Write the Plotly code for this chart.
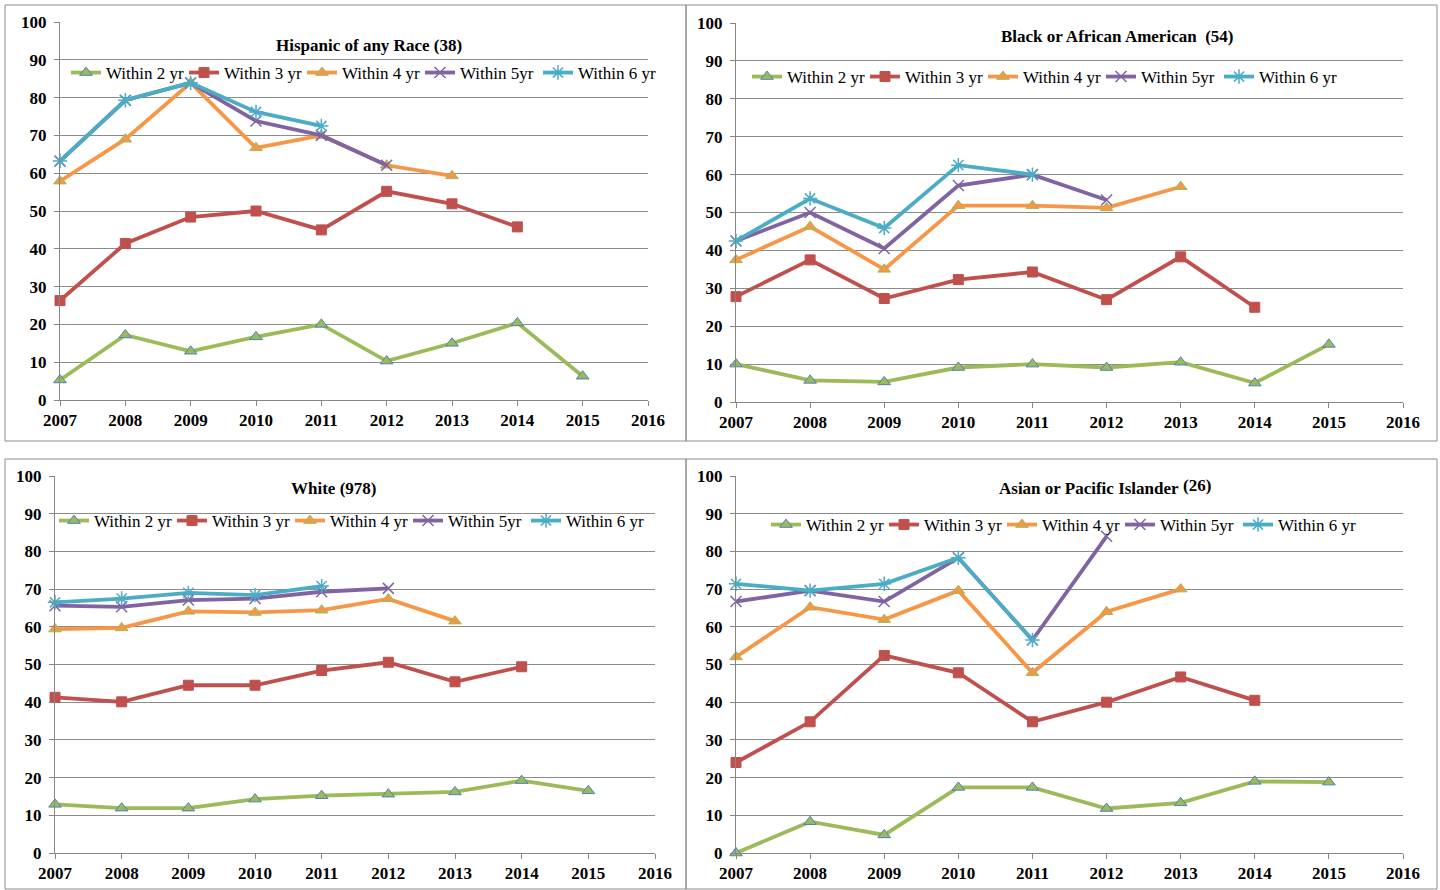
import plotly.graph_objects as go

W, H = 1440, 890

years = [2007, 2008, 2009, 2010, 2011, 2012, 2013, 2014, 2015]
series_names = ["Within 2 yr", "Within 3 yr", "Within 4 yr", "Within 5yr", "Within 6 yr"]

# Hispanic of any Race (38)
hisp_2 = [5.3, 17.2, 12.9, 16.7, 20.0, 10.3, 15.0, 20.4, 6.3]
hisp_3 = [26.3, 41.4, 48.4, 50.0, 45.0, 55.2, 51.9, 45.8]
hisp_4 = [57.9, 69.0, 83.9, 66.7, 70.0, 62.1, 59.3]
hisp_5 = [63.2, 79.3, 83.9, 73.8, 70.0, 62.1]
hisp_6 = [63.2, 79.3, 83.9, 76.2, 72.5]

# Black or African American (54)
black_2 = [10.0, 5.7, 5.3, 9.1, 10.0, 9.1, 10.5, 5.0, 15.2]
black_3 = [27.8, 37.5, 27.3, 32.3, 34.3, 27.0, 38.3, 25.0]
black_4 = [37.5, 46.3, 35.0, 51.8, 51.8, 51.2, 56.8]
black_5 = [42.5, 50.0, 40.5, 57.1, 60.0, 53.3]
black_6 = [42.5, 53.7, 45.9, 62.5, 60.0]

# White (978)
white_2 = [12.9, 11.9, 11.9, 14.3, 15.2, 15.6, 16.2, 19.2, 16.5]
white_3 = [41.3, 40.1, 44.5, 44.5, 48.4, 50.6, 45.4, 49.4]
white_4 = [59.4, 59.7, 64.1, 63.8, 64.4, 67.4, 61.5]
white_5 = [65.6, 65.3, 67.1, 67.5, 69.3, 70.2]
white_6 = [66.5, 67.5, 69.0, 68.4, 70.8]

# Asian or Pacific Islander (26)
asian_2 = [0.0, 8.3, 4.8, 17.4, 17.4, 11.8, 13.3, 19.0, 18.8]
asian_3 = [24.0, 34.8, 52.4, 47.8, 34.8, 40.0, 46.7, 40.5]
asian_4 = [52.0, 65.2, 61.9, 69.6, 47.8, 64.0, 70.0]
asian_5 = [66.7, 69.6, 66.7, 78.3, 56.5, 84.0]
asian_6 = [71.4, 69.6, 71.4, 78.3, 56.5]

panels = [
    ("Hispanic of any Race (38)", [hisp_2, hisp_3, hisp_4, hisp_5, hisp_6]),
    ("Black or African American  (54)", [black_2, black_3, black_4, black_5, black_6]),
    ("White (978)", [white_2, white_3, white_4, white_5, white_6]),
    ("Asian or Pacific Islander", [asian_2, asian_3, asian_4, asian_5, asian_6]),
]

# pixel boxes: plot area (x0, x1, ytop, ybottom), frame, title pos, legend pos
plot_px = [(60, 648, 22, 400), (736, 1403, 23, 402), (55, 655, 476, 853), (736, 1403, 476, 853)]
frame_px = [(5, 686, 5, 441), (686, 1437, 5, 441), (5, 686, 459, 889), (686, 1437, 459, 889)]
title_px = [(369, 45), (1117, 37), (333, 488), (1089, 489)]
legend_px = [(66, 73), (747, 77), (54, 521), (766, 525)]

line_colors = ["#9BBB59", "#C0504D", "#F79646", "#8064A2", "#4BACC6"]
markers = [
    dict(symbol="triangle-up", size=11, color="#9BBB59", line=dict(color="#4F81BD", width=1)),
    dict(symbol="square", size=10, color="#C0504D", line=dict(color="#C0504D", width=1)),
    dict(symbol="triangle-up", size=11, color="#F79646", line=dict(color="#9BBB59", width=1)),
    dict(symbol="x-thin-open", size=11, color="#8064A2", line=dict(color="#8064A2", width=1.5)),
    dict(symbol="asterisk-open", size=12, color="#4BACC6", line=dict(color="#4BACC6", width=1.5)),
]


def px_x(x):
    return x / W


def px_y(y):
    return 1 - y / H


fig = go.Figure()
layout = dict(
    width=W, height=H,
    margin=dict(l=0, r=0, t=0, b=0, autoexpand=False),
    paper_bgcolor="white", plot_bgcolor="white",
    showlegend=True,
    font=dict(family="Liberation Serif", color="black"),
    annotations=[], shapes=[],
)

for i, (title, data) in enumerate(panels):
    n = i + 1
    xa = "x" if n == 1 else f"x{n}"
    ya = "y" if n == 1 else f"y{n}"
    lg = "legend" if n == 1 else f"legend{n}"
    for j, vals in enumerate(data):
        fig.add_trace(go.Scatter(
            x=years[:len(vals)], y=vals, name=series_names[j],
            mode="lines+markers", xaxis=xa, yaxis=ya, legend=lg,
            line=dict(color=line_colors[j], width=3.8),
            marker=markers[j], cliponaxis=False,
        ))
    x0, x1, yt, yb = plot_px[i]
    axis_font = dict(family="Liberation Serif", size=17, color="black", weight="bold")
    layout["xaxis" if n == 1 else f"xaxis{n}"] = dict(
        domain=[px_x(x0), px_x(x1)], anchor=ya, range=[2007, 2016],
        tick0=2007, dtick=1, showgrid=False, zeroline=False,
        showline=True, linecolor="#868686", linewidth=1,
        ticks="outside", ticklen=5, tickcolor="#868686",
        tickfont=axis_font, ticklabelstandoff=0,
    )
    layout["yaxis" if n == 1 else f"yaxis{n}"] = dict(
        domain=[px_y(yb), px_y(yt)], anchor=xa, range=[0, 100],
        tick0=0, dtick=10, showgrid=True, gridcolor="#8c8c8c", gridwidth=1,
        zeroline=False, showline=True, linecolor="#868686", linewidth=1,
        ticks="outside", ticklen=5, tickcolor="#868686",
        tickfont=axis_font, ticklabelstandoff=4,
    )
    lx, ly = legend_px[i]
    layout[lg] = dict(
        orientation="h", x=px_x(lx), y=px_y(ly), xanchor="left", yanchor="middle",
        xref="paper", yref="paper", bgcolor="rgba(0,0,0,0)",
        font=dict(family="Liberation Serif", size=17, color="black"),
        itemwidth=30, entrywidth=73, tracegroupgap=0,
    )
    tx, ty = title_px[i]
    layout["annotations"].append(dict(
        text=f"<b>{title}</b>", x=px_x(tx), y=px_y(ty), xref="paper", yref="paper",
        xanchor="center", yanchor="middle", showarrow=False,
        font=dict(family="Liberation Serif", size=17, color="black"),
    ))
    fx0, fx1, fy0, fy1 = frame_px[i]
    layout["shapes"].append(dict(
        type="rect", xref="paper", yref="paper",
        x0=px_x(fx0), x1=px_x(fx1), y0=px_y(fy1), y1=px_y(fy0),
        line=dict(color="#8c8c8c", width=1), layer="below",
    ))

# raised count next to the Asian or Pacific Islander title
layout["annotations"].append(dict(
    text="<b>(26)</b>", x=px_x(1181), y=px_y(485), xref="paper", yref="paper",
    xanchor="left", yanchor="middle", showarrow=False,
    font=dict(family="Liberation Serif", size=17, color="black"),
))

fig.update_layout(**layout)
# drop the default page margin so the figure sits at the window's corner
fig.write_html("out.html", config={"displayModeBar": False},
               post_script="document.body.style.margin = '0';")
